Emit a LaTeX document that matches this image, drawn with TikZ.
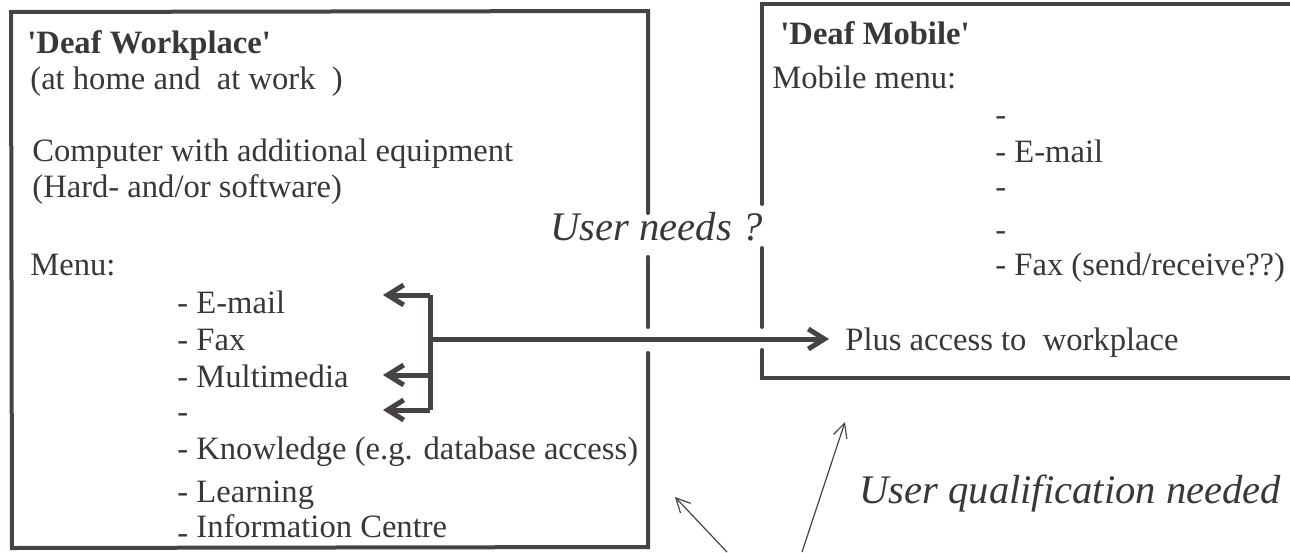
\documentclass[tikz,border=0pt]{standalone}
\usepackage{fontspec}
\setmainfont{Liberation Serif}
\usepackage{tikz}
\usetikzlibrary{arrows.meta,positioning,calc}

\definecolor{ink}{HTML}{474246}
\definecolor{inktext}{HTML}{3A3739}
\newcommand{\bodyfont}{\fontsize{16.3}{19}\selectfont}
\newcommand{\notefont}{\fontsize{20.3}{24}\selectfont\itshape}

\begin{document}
\begin{tikzpicture}[
  x=0.5pt, y=-0.5pt,
  txt/.style={anchor=base west, inner sep=0pt, font=\bodyfont, text=inktext},
  note/.style={anchor=base west, inner sep=0pt, font=\notefont, text=inktext},
  frame/.style={draw=ink, line width=2pt, line cap=round, line join=miter},
  thickline/.style={draw=ink, line width=2.5pt},
  bigarrow/.style={draw=ink, line width=2.5pt, -{Straight Barb[length=8pt, width=10pt]}},
  thinarrow/.style={draw=ink, line width=0.6pt, -{Straight Barb[length=7pt, width=7pt]}},
]
  \useasboundingbox (0,0) rectangle (1290,552);

  % frames (broken where text and arrow pass)
  \draw[frame] (648,213) -- (648,11) -- (11,12) -- (12,548) -- (648,547) -- (648,353);
  \draw[frame] (648,257) -- (648,327);
  \draw[frame] (1290,4) -- (762,4) -- (762,204);
  \draw[frame] (762,248) -- (762,327);
  \draw[frame] (762,350) -- (762,378) -- (1290,378);

  % Deaf Workplace
  \node[txt] (wtitle) at (27,53) {\textbf{\textquotesingle Deaf Workplace\textquotesingle}};
  \node[txt] (wwhere) at (30,89) {(at home and\ \ at work\ \ )};
  \node[txt] (wcomp) at (32,161) {Computer with additional equipment};
  \node[txt] (whard) at (32,197) {(Hard- and/or software)};
  \node[txt] (wmenu) at (30,275) {Menu:};
  \node[txt] (email) at (177,313) {- E-mail};
  \node[txt] (fax) at (177,350) {- Fax};
  \node[txt] (multi) at (177,387) {- Multimedia};
  \node[txt] (blank) at (177,422) {-};
  \node[txt] (know) at (177,459) {- Knowledge (e.g. database access)};
  \node[txt] (learn) at (177,502) {- Learning};
  \node[txt] (info) at (177,537) {\raisebox{-0.2em}{-}\ Information Centre};

  % Deaf Mobile
  \node[txt] (mtitle) at (780,44) {\textbf{\textquotesingle Deaf Mobile\textquotesingle}};
  \node[txt] (mmenu) at (772,88) {Mobile menu:};
  \node[txt] (mone) at (995,125) {-};
  \node[txt] (memail) at (995,162) {- E-mail};
  \node[txt] (mtwo) at (995,197) {-};
  \node[txt] (mthree) at (995,240) {-};
  \node[txt] (mfax) at (995,275) {- Fax (send/receive??)};
  \node[txt] (plus) at (845,350) {Plus access to\ \ workplace};

  % notes
  \node[note] (needs) at (550,240) {User needs ?};
  \node[note] (qual) at (859,503) {User qualification needed};

  % bracket and arrows
  \coordinate (btop) at (430,295);
  \coordinate (bmid) at (430,375);
  \coordinate (bbot) at (430,410);
  \coordinate (hub) at (430,339);
  \coordinate (toemail) at (383,295);
  \coordinate (tomulti) at (383,375);
  \coordinate (toblank) at (383,410);
  \draw[thickline] (btop) -- (bbot);
  \draw[bigarrow] (btop) -- (toemail);
  \draw[bigarrow] (bmid) -- (tomulti);
  \draw[bigarrow] (bbot) -- (toblank);
  \draw[bigarrow, shorten >=8pt] (hub) -- (hub -| plus.west);

  % qualification pointers
  \coordinate (srca) at (727,552);
  \coordinate (srcb) at (802,552);
  \coordinate (tipa) at (675,497);
  \coordinate (tipb) at (845,422);
  \draw[thinarrow] (srca) -- (tipa);
  \draw[thinarrow] (srcb) -- (tipb);
\end{tikzpicture}
\end{document}
